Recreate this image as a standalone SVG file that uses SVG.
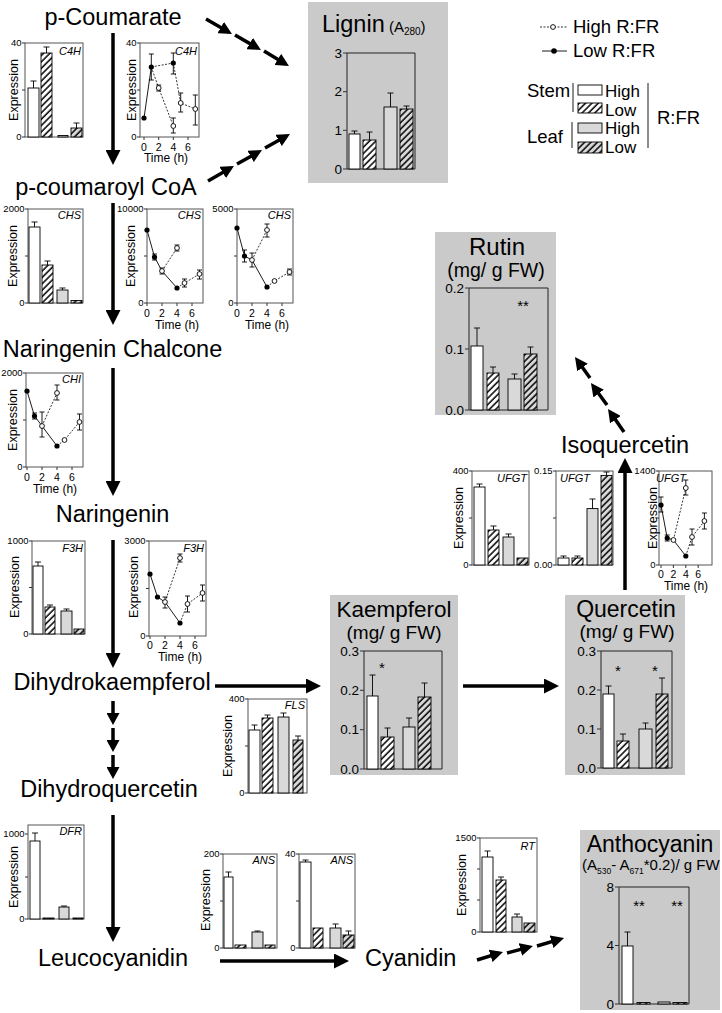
<svg xmlns="http://www.w3.org/2000/svg" width="722" height="1013" viewBox="0 0 722 1013">
<style>
text{font-family:"Liberation Sans",Arial,Helvetica,sans-serif;fill:#000}
.node{font-size:23.5px}
.nc{text-anchor:middle}
.yt{font-size:9.5px;text-anchor:end}
.xt{font-size:10.5px;text-anchor:middle}
.tl{font-size:12px;text-anchor:middle}
.yl{font-size:12.5px;text-anchor:middle}
.gn{font-size:11px;font-style:italic;text-anchor:end}
.bt{font-size:13.5px;text-anchor:end}
.st{font-size:15px;text-anchor:middle}
.lg{font-size:18.5px}
.lh{font-size:17px}
.fr{fill:none;stroke:#555;stroke-width:1}
.bf{fill:none;stroke:#222;stroke-width:1}
.tk{fill:none;stroke:#333;stroke-width:1}
.b{stroke:#000;stroke-width:0.9}
.w{fill:#fff}
.g{fill:#d9d9d9}
.hw{fill:url(#hw)}
.hg{fill:url(#hg)}
.er{fill:none;stroke:#000;stroke-width:0.9}
.ls{fill:none;stroke:#000;stroke-width:0.9}
.ld{fill:none;stroke:#000;stroke-width:0.8;stroke-dasharray:2 1.5}
.oc{fill:#fff;stroke:#000;stroke-width:0.9}
.fc{fill:#000}
.box{fill:#cacaca}
.ar{fill:none;stroke:#000;stroke-width:3.5}
</style>
<defs>
<pattern id="hw" patternUnits="userSpaceOnUse" width="4.5" height="4.5" patternTransform="rotate(45)"><rect width="4.5" height="4.5" fill="#fff"/><line x1="1" y1="0" x2="1" y2="4.5" stroke="#000" stroke-width="1.5"/></pattern>
<pattern id="hg" patternUnits="userSpaceOnUse" width="4.5" height="4.5" patternTransform="rotate(45)"><rect width="4.5" height="4.5" fill="#d9d9d9"/><line x1="1" y1="0" x2="1" y2="4.5" stroke="#000" stroke-width="1.5"/></pattern>
<marker id="ah" viewBox="0 0 15 15" refX="10" refY="7.5" markerWidth="15" markerHeight="15" markerUnits="userSpaceOnUse" orient="auto"><path d="M0,0 L15,7.5 L0,15 z" fill="#000"/></marker>
<marker id="am" viewBox="0 0 13 13" refX="9" refY="6.5" markerWidth="13" markerHeight="13" markerUnits="userSpaceOnUse" orient="auto"><path d="M0,0 L13,6.5 L0,13 z" fill="#000"/></marker>
<marker id="as" viewBox="0 0 12 13" refX="8" refY="6.5" markerWidth="12" markerHeight="13" markerUnits="userSpaceOnUse" orient="auto"><path d="M0,0 L12,6.5 L0,13 z" fill="#000"/></marker>
</defs>
<rect width="722" height="1013" fill="#fff"/>

<g id="connectors">
<path class="ar" marker-end="url(#ah)" d="M113,33 V160"/>
<path class="ar" marker-end="url(#ah)" d="M113,203 V320"/>
<path class="ar" marker-end="url(#ah)" d="M113,368 V491"/>
<path class="ar" marker-end="url(#ah)" d="M113,540 V663"/>
<path class="ar" marker-end="url(#as)" d="M113,701 V721"/>
<path class="ar" marker-end="url(#as)" d="M113,728 V748"/>
<path class="ar" marker-end="url(#as)" d="M113,755 V775"/>
<path class="ar" marker-end="url(#ah)" d="M113,815 V937"/>
<path class="ar" marker-end="url(#ah)" d="M215,686 H316"/>
<path class="ar" marker-end="url(#ah)" d="M463,686 H554"/>
<path class="ar" marker-end="url(#ah)" d="M220,961 H344"/>
<path class="ar" marker-end="url(#ah)" d="M625,590 V463"/>
<path class="ar" marker-end="url(#am)" d="M206,19 L228.5,32"/>
<path class="ar" marker-end="url(#am)" d="M235,35 L257.5,48"/>
<path class="ar" marker-end="url(#am)" d="M264,51 L285.5,64"/>
<path class="ar" marker-end="url(#am)" d="M208,181 L230.5,168"/>
<path class="ar" marker-end="url(#am)" d="M237,164 L258.5,152"/>
<path class="ar" marker-end="url(#am)" d="M265,148 L286.5,136"/>
<path class="ar" marker-end="url(#am)" d="M590,378 L577.3,360.3"/>
<path class="ar" marker-end="url(#am)" d="M607,405 L593.3,386.3"/>
<path class="ar" marker-end="url(#am)" d="M624,432 L610.3,412.3"/>
<path class="ar" marker-end="url(#am)" d="M477,960 L499.2,953.2"/>
<path class="ar" marker-end="url(#am)" d="M507,953 L529.1,947.1"/>
<path class="ar" marker-end="url(#am)" d="M537,946 L560.2,939.1"/>
</g>

<g id="node-p-coumarate"><text class="node nc" x="113" y="25">p-Coumarate</text></g>
<g id="node-p-coumaroyl-coa"><text class="node nc" x="106" y="195">p-coumaroyl CoA</text></g>
<g id="node-naringenin-chalcone"><text class="node nc" x="112.5" y="357">Naringenin Chalcone</text></g>
<g id="node-naringenin"><text class="node nc" x="112.5" y="522">Naringenin</text></g>
<g id="node-dihydrokaempferol"><text class="node nc" x="112" y="690">Dihydrokaempferol</text></g>
<g id="node-dihydroquercetin"><text class="node nc" x="109" y="797">Dihydroquercetin</text></g>
<g id="node-leucocyanidin"><text class="node nc" x="113" y="966">Leucocyanidin</text></g>
<g id="node-cyanidin"><text class="node" x="365" y="966">Cyanidin</text></g>
<g id="node-isoquercetin"><text class="node nc" x="625" y="453">Isoquercetin</text></g>

<g id="chart-c4h-bar">
<rect class="fr" x="25" y="43" width="58" height="94"/>
<path class="tk" d="M22,43H25M22,90H25M22,137H25"/>
<text class="yt" x="21.5" y="46.3">40</text><text class="yt" x="21.5" y="140.3">0</text>
<text class="yl" transform="translate(18,90) rotate(-90)">Expression</text>
<text class="gn" x="81" y="55">C4H</text>
<rect class="b w" x="28" y="88" width="11" height="49"/><path class="er" d="M33.5,88V81M30.5,81H36.5"/>
<rect class="b hw" x="41" y="53" width="11" height="84"/><path class="er" d="M46.5,53V47M43.5,47H49.5"/>
<rect class="b g" x="58" y="135.5" width="10" height="1.5"/>
<rect class="b hg" x="71" y="128" width="11" height="9"/><path class="er" d="M76.5,128V123M73.5,123H79.5"/>
</g>

<g id="chart-c4h-time">
<rect class="fr" x="140" y="43" width="59" height="94"/>
<path class="tk" d="M137,43H140M137,90H140M137,137H140M144,137v3M158.7,137v3M173.3,137v3M188,137v3"/>
<text class="yt" x="136.5" y="46.3">40</text><text class="yt" x="136.5" y="140.3">0</text>
<text class="yl" transform="translate(136,90) rotate(-90)">Expression</text>
<text class="gn" x="197" y="55">C4H</text>
<text class="xt" x="144" y="151">0</text><text class="xt" x="158.7" y="151">2</text><text class="xt" x="173.3" y="151">4</text><text class="xt" x="188" y="151">6</text>
<text class="tl" x="166" y="162">Time (h)</text>
<path class="ls" d="M144,118 L151.3,67"/>
<path class="ld" d="M151.3,67 L173.3,63M151.3,67 L158.7,88 L173.3,126M173.3,63 L180.7,103 L195.3,109"/>
<path class="er" d="M151.3,54V80M148.8,54h5M148.8,80h5M173.3,53V74M170.8,53h5M170.8,74h5M173.3,118V133M170.8,118h5M170.8,133h5M180.7,93V112M178.2,93h5M178.2,112h5M195.3,95V125M192.8,95h5M192.8,125h5M158.7,85V91M156.2,85h5M156.2,91h5"/>
<circle class="fc" cx="144" cy="118" r="2.6"/><circle class="fc" cx="151.3" cy="67" r="2.6"/><circle class="fc" cx="173.3" cy="63" r="2.6"/>
<circle class="oc" cx="158.7" cy="88" r="2.4"/><circle class="oc" cx="173.3" cy="126" r="2.4"/><circle class="oc" cx="180.7" cy="103" r="2.4"/><circle class="oc" cx="195.3" cy="109" r="2.4"/>
</g>

<g id="node-lignin">
<rect class="box" x="308" y="2" width="140" height="181"/>
<text x="322" y="32"><tspan font-size="23.5">Lignin</tspan><tspan font-size="15"> (A</tspan><tspan font-size="10" dy="3">280</tspan><tspan font-size="15" dy="-3">)</tspan></text>
<path class="bf" d="M347,53V169H415V53H347"/>
<path class="tk" d="M343,53H347M343,91.7H347M343,130.3H347M343,169H347"/>
<text class="bt" x="342" y="57.5">3</text><text class="bt" x="342" y="96">2</text><text class="bt" x="342" y="134.5">1</text><text class="bt" x="342" y="173.5">0</text>
<rect class="b w" x="349" y="134" width="11" height="35"/><path class="er" d="M354.5,134V131M351.5,131H357.5"/>
<rect class="b hw" x="363" y="140" width="13" height="29"/><path class="er" d="M369.5,140V132M366.5,132H372.5"/>
<rect class="b g" x="384" y="107" width="13" height="62"/><path class="er" d="M390.5,107V93M387.5,93H393.5"/>
<rect class="b hg" x="400" y="109" width="13" height="60"/><path class="er" d="M406.5,109V106M403.5,106H409.5"/>
</g>

<g id="legend">
<path class="ld" d="M540,27H567"/><circle class="oc" cx="553" cy="27" r="2.4"/>
<text class="lg" x="573" y="33">High R:FR</text>
<path class="ls" d="M542,51H567" stroke-width="1.2"/><circle class="fc" cx="554" cy="51" r="2.8"/>
<text class="lg" x="573" y="57">Low R:FR</text>
<text class="lg" x="527" y="97">Stem</text>
<text class="lg" x="527" y="143">Leaf</text>
<path class="ls" d="M573,83V112M572,122V148M648,83V148" stroke-width="1.2"/>
<rect class="b w" x="578" y="85" width="24" height="10"/>
<rect class="b hw" x="578" y="103" width="24" height="10"/>
<rect class="b g" x="578" y="123" width="24" height="10"/>
<rect class="b hg" x="578" y="142" width="24" height="11"/>
<text class="lh" x="605" y="96.5">High</text>
<text class="lh" x="605" y="115.5">Low</text>
<text class="lh" x="605" y="134">High</text>
<text class="lh" x="605" y="153">Low</text>
<text class="lg" x="657" y="124">R:FR</text>
</g>

<g id="chart-chs-bar">
<rect class="fr" x="28" y="209" width="55" height="94"/>
<path class="tk" d="M25,209H28M25,256H28M25,303H28"/>
<text class="yt" x="24.5" y="212.3">2000</text><text class="yt" x="24.5" y="306.3">0</text>
<text class="yl" transform="translate(17,256) rotate(-90)">Expression</text>
<text class="gn" x="81" y="219">CHS</text>
<rect class="b w" x="29" y="227" width="11" height="76"/><path class="er" d="M34.5,227V222M31.5,222H37.5"/>
<rect class="b hw" x="42" y="265" width="11" height="38"/><path class="er" d="M47.5,265V261M44.5,261H50.5"/>
<rect class="b g" x="57" y="290" width="11" height="13"/><path class="er" d="M62.5,290V288M59.5,288H65.5"/>
<rect class="b hg" x="71" y="300.5" width="11" height="2.5"/>
</g>

<g id="chart-chs-time-1">
<rect class="fr" x="147" y="209" width="56" height="94"/>
<path class="tk" d="M144,209H147M144,256H147M144,303H147M147,303v3M162,303v3M177,303v3M192,303v3"/>
<text class="yt" x="143.5" y="212.3">10000</text><text class="yt" x="143.5" y="306.3">0</text>
<text class="yl" transform="translate(135,256) rotate(-90)">Expression</text>
<text class="gn" x="201" y="219">CHS</text>
<text class="xt" x="147" y="317">0</text><text class="xt" x="162" y="317">2</text><text class="xt" x="177" y="317">4</text><text class="xt" x="192" y="317">6</text>
<text class="tl" x="177" y="329">Time (h)</text>
<path class="ls" d="M147,230 L154.5,257 L162,271 L177,288"/>
<path class="ld" d="M162,271 L177,248M177,288 L184.5,283 L199.5,274"/>
<path class="er" d="M154.5,254V260M152,254h5M152,260h5M162,268V274M159.5,268h5M159.5,274h5M177,245V251M174.5,245h5M174.5,251h5M184.5,279V287M182,279h5M182,287h5M199.5,270V279M197,270h5M197,279h5"/>
<circle class="fc" cx="147" cy="230" r="2.6"/><circle class="fc" cx="154.5" cy="257" r="2.6"/><circle class="fc" cx="177" cy="288" r="2.6"/>
<circle class="oc" cx="162" cy="271" r="2.4"/><circle class="oc" cx="177" cy="248" r="2.4"/><circle class="oc" cx="184.5" cy="283" r="2.4"/><circle class="oc" cx="199.5" cy="274" r="2.4"/>
</g>

<g id="chart-chs-time-2">
<rect class="fr" x="237" y="209" width="56" height="94"/>
<path class="tk" d="M234,209H237M234,256H237M234,303H237M237,303v3M252,303v3M267,303v3M282,303v3"/>
<text class="yt" x="233.5" y="212.3">5000</text><text class="yt" x="233.5" y="306.3">0</text>
<text class="gn" x="291" y="219">CHS</text>
<text class="xt" x="237" y="317">0</text><text class="xt" x="252" y="317">2</text><text class="xt" x="267" y="317">4</text><text class="xt" x="282" y="317">6</text>
<text class="tl" x="267" y="329">Time (h)</text>
<path class="ls" d="M237,228 L244.5,256 L252,260 L267,287"/>
<path class="ld" d="M252,260 L267,230M267,287 L274.5,281 L289.5,272"/>
<path class="er" d="M244.5,250V262M242,250h5M242,262h5M252,253V267M249.5,253h5M249.5,267h5M267,224V237M264.5,224h5M264.5,237h5M289.5,269V275M287,269h5M287,275h5"/>
<circle class="fc" cx="237" cy="228" r="2.6"/><circle class="fc" cx="244.5" cy="256" r="2.6"/><circle class="fc" cx="267" cy="287" r="2.6"/>
<circle class="oc" cx="252" cy="260" r="2.4"/><circle class="oc" cx="267" cy="230" r="2.4"/><circle class="oc" cx="274.5" cy="281" r="2.4"/><circle class="oc" cx="289.5" cy="272" r="2.4"/>
</g>

<g id="chart-chi-time">
<rect class="fr" x="26" y="373" width="57" height="94"/>
<path class="tk" d="M23,373H26M23,420H26M23,467H26M27,467v3M42,467v3M57,467v3M72,467v3"/>
<text class="yt" x="22.5" y="376.3">2000</text><text class="yt" x="22.5" y="470.3">0</text>
<text class="yl" transform="translate(17,420) rotate(-90)">Expression</text>
<text class="gn" x="81" y="383">CHI</text>
<text class="xt" x="27" y="481">0</text><text class="xt" x="42" y="481">2</text><text class="xt" x="57" y="481">4</text><text class="xt" x="72" y="481">6</text>
<text class="tl" x="55" y="493">Time (h)</text>
<path class="ls" d="M27,391 L34.5,416 L42,426 L57,446"/>
<path class="ld" d="M42,426 L57,393M57,446 L64.5,440 L79.5,422"/>
<path class="er" d="M34.5,413V419M32,413h5M32,419h5M42,412V437M39.5,412h5M39.5,437h5M57,385V400M54.5,385h5M54.5,400h5M79.5,414V430M77,414h5M77,430h5"/>
<circle class="fc" cx="27" cy="391" r="2.6"/><circle class="fc" cx="34.5" cy="416" r="2.6"/><circle class="fc" cx="57" cy="446" r="2.6"/>
<circle class="oc" cx="42" cy="426" r="2.4"/><circle class="oc" cx="57" cy="393" r="2.4"/><circle class="oc" cx="64.5" cy="440" r="2.4"/><circle class="oc" cx="79.5" cy="422" r="2.4"/>
</g>

<g id="chart-f3h-bar">
<rect class="fr" x="32" y="541" width="53" height="93"/>
<path class="tk" d="M29,541H32M29,587.5H32M29,634H32"/>
<text class="yt" x="28.5" y="544.3">1000</text><text class="yt" x="28.5" y="637.3">0</text>
<text class="yl" transform="translate(19,587) rotate(-90)">Expression</text>
<text class="gn" x="83" y="552">F3H</text>
<rect class="b w" x="33" y="566" width="10" height="68"/><path class="er" d="M38,566V562M35,562H41"/>
<rect class="b hw" x="45" y="607" width="10" height="27"/><path class="er" d="M50,607V605M47,605H53"/>
<rect class="b g" x="61" y="611" width="11" height="23"/><path class="er" d="M66.5,611V609M63.5,609H69.5"/>
<rect class="b hg" x="74" y="629" width="10" height="5"/>
</g>

<g id="chart-f3h-time">
<rect class="fr" x="149" y="541" width="57" height="95"/>
<path class="tk" d="M146,541H149M146,588.5H149M146,636H149M150,636v3M165,636v3M180,636v3M195,636v3"/>
<text class="yt" x="145.5" y="544.3">3000</text><text class="yt" x="145.5" y="639.3">0</text>
<text class="yl" transform="translate(138,587) rotate(-90)">Expression</text>
<text class="gn" x="204" y="552">F3H</text>
<text class="xt" x="150" y="649">0</text><text class="xt" x="165" y="649">2</text><text class="xt" x="180" y="649">4</text><text class="xt" x="195" y="649">6</text>
<text class="tl" x="180" y="661">Time (h)</text>
<path class="ls" d="M150,574 L157.5,597 L165,602 L180,623"/>
<path class="ld" d="M165,602 L180,558M180,623 L187.5,604 L202.5,593"/>
<path class="er" d="M165,597V608M162.5,597h5M162.5,608h5M180,554V562M177.5,554h5M177.5,562h5M187.5,596V612M185,596h5M185,612h5M202.5,585V601M200,585h5M200,601h5"/>
<circle class="fc" cx="150" cy="574" r="2.6"/><circle class="fc" cx="157.5" cy="597" r="2.6"/><circle class="fc" cx="180" cy="623" r="2.6"/>
<circle class="oc" cx="165" cy="602" r="2.4"/><circle class="oc" cx="180" cy="558" r="2.4"/><circle class="oc" cx="187.5" cy="604" r="2.4"/><circle class="oc" cx="202.5" cy="593" r="2.4"/>
</g>

<g id="node-rutin">
<rect class="box" x="435" y="232" width="121" height="183"/>
<text class="nc" x="497" y="255" font-size="24">Rutin</text>
<text class="nc" x="496" y="277" font-size="19.5">(mg/ g FW)</text>
<path class="bf" d="M469,288V410H548V288H469"/>
<path class="tk" d="M465,288H469M465,349H469M465,410H469"/>
<text class="bt" x="464" y="292.5">0.2</text><text class="bt" x="464" y="353.5">0.1</text><text class="bt" x="464" y="414.5">0.0</text>
<text class="st" x="523" y="311">**</text>
<rect class="b w" x="471" y="346" width="12" height="64"/><path class="er" d="M477,346V328M474,328H480"/>
<rect class="b hw" x="487" y="373" width="12" height="37"/><path class="er" d="M493,373V367M490,367H496"/>
<rect class="b g" x="508" y="379" width="13" height="31"/><path class="er" d="M514.5,379V374M511.5,374H517.5"/>
<rect class="b hg" x="524" y="354" width="13" height="56"/><path class="er" d="M530.5,354V347M527.5,347H533.5"/>
</g>

<g id="chart-ufgt-1">
<rect class="fr" x="472" y="471" width="57" height="94"/>
<path class="tk" d="M469,471H472M469,518H472M469,565H472"/>
<text class="yt" x="468.5" y="474.3">400</text><text class="yt" x="468.5" y="568.3">0</text>
<text class="yl" transform="translate(463,518) rotate(-90)">Expression</text>
<text class="gn" x="527" y="482">UFGT</text>
<rect class="b w" x="474" y="487" width="11" height="78"/><path class="er" d="M479.5,487V484M476.5,484H482.5"/>
<rect class="b hw" x="488" y="530" width="11" height="35"/><path class="er" d="M493.5,530V526M490.5,526H496.5"/>
<rect class="b g" x="503" y="537" width="11" height="28"/><path class="er" d="M508.5,537V534M505.5,534H511.5"/>
<rect class="b hg" x="517" y="558" width="11" height="7"/>
</g>

<g id="chart-ufgt-2">
<rect class="fr" x="556" y="471" width="57" height="94"/>
<path class="tk" d="M553,471H556M553,518H556M553,565H556"/>
<text class="yt" x="552.5" y="474.3">0.15</text><text class="yt" x="552.5" y="568.3">0.00</text>
<text class="gn" x="583" y="482" style="text-anchor:start" dx="-23">UFGT</text>
<rect class="b w" x="558" y="558" width="11" height="7"/><path class="er" d="M563.5,558V556M560.5,556H566.5"/>
<rect class="b hw" x="572" y="558" width="11" height="7"/><path class="er" d="M577.5,558V556M574.5,556H580.5"/>
<rect class="b g" x="587" y="508.6" width="11" height="56.4"/><path class="er" d="M592.5,508.6V499M589.5,499H595.5"/>
<rect class="b hg" x="601" y="475.4" width="11" height="89.6"/><path class="er" d="M606.5,475.4V472M603.5,472H609.5"/>
</g>

<g id="chart-ufgt-time">
<rect class="fr" x="659" y="471" width="53" height="94"/>
<path class="tk" d="M656,471H659M656,518H659M656,565H659M661,565v3M673.4,565v3M685.8,565v3M698.2,565v3"/>
<text class="yt" x="655.5" y="474.3">1400</text><text class="yt" x="655.5" y="568.3">0</text>
<text class="yl" transform="translate(657,518) rotate(-90)">Expression</text>
<text class="gn" x="686" y="482">UFGT</text>
<text class="xt" x="661" y="578">0</text><text class="xt" x="673.4" y="578">2</text><text class="xt" x="685.8" y="578">4</text><text class="xt" x="698.2" y="578">6</text>
<text class="tl" x="686" y="590">Time (h)</text>
<path class="ls" d="M661,505 L667.2,538 L673.4,540 L685.8,556"/>
<path class="ld" d="M673.4,540 L685.8,488M685.8,556 L692,537 L704.4,521"/>
<path class="er" d="M661,497V512M658.5,497h5M658.5,512h5M667.2,535V541M664.7,535h5M664.7,541h5M685.8,480V495M683.3,480h5M683.3,495h5M692,529V545M689.5,529h5M689.5,545h5M704.4,513V529M701.9,513h5M701.9,529h5"/>
<circle class="fc" cx="661" cy="505" r="2.6"/><circle class="fc" cx="667.2" cy="538" r="2.6"/><circle class="fc" cx="685.8" cy="556" r="2.6"/>
<circle class="oc" cx="673.4" cy="540" r="2.4"/><circle class="oc" cx="685.8" cy="488" r="2.4"/><circle class="oc" cx="692" cy="537" r="2.4"/><circle class="oc" cx="704.4" cy="521" r="2.4"/>
</g>

<g id="node-kaempferol">
<rect class="box" x="330" y="595" width="128" height="180"/>
<text class="nc" x="394" y="617" font-size="22.5">Kaempferol</text>
<text class="nc" x="394" y="639" font-size="19">(mg/ g FW)</text>
<path class="bf" d="M364,651V769H442V651H364"/>
<path class="tk" d="M360,651H364M360,690.3H364M360,729.7H364M360,769H364"/>
<text class="bt" x="359" y="655.5">0.3</text><text class="bt" x="359" y="694.8">0.2</text><text class="bt" x="359" y="734.2">0.1</text><text class="bt" x="359" y="773.5">0.0</text>
<text class="st" x="382" y="673">*</text>
<rect class="b w" x="367" y="696" width="11" height="73"/><path class="er" d="M372.5,696V675M369.5,675H375.5"/>
<rect class="b hw" x="381" y="737" width="13" height="32"/><path class="er" d="M387.5,737V728M384.5,728H390.5"/>
<rect class="b g" x="403" y="727" width="12" height="42"/><path class="er" d="M409,727V718M406,718H412"/>
<rect class="b hg" x="418" y="697" width="13" height="72"/><path class="er" d="M424.5,697V683M421.5,683H427.5"/>
</g>

<g id="node-quercetin">
<rect class="box" x="565" y="595" width="120" height="180"/>
<text class="nc" x="626" y="617" font-size="23">Quercetin</text>
<text class="nc" x="627" y="638" font-size="19">(mg/ g FW)</text>
<path class="bf" d="M601,651V768H672V651H601"/>
<path class="tk" d="M597,651H601M597,690H601M597,729H601M597,768H601"/>
<text class="bt" x="596" y="655.5">0.3</text><text class="bt" x="596" y="694.5">0.2</text><text class="bt" x="596" y="733.5">0.1</text><text class="bt" x="596" y="772.5">0.0</text>
<text class="st" x="618" y="676">*</text><text class="st" x="655" y="676">*</text>
<rect class="b w" x="603" y="694" width="11" height="74"/><path class="er" d="M608.5,694V686M605.5,686H611.5"/>
<rect class="b hw" x="617" y="741" width="12" height="27"/><path class="er" d="M623,741V734M620,734H626"/>
<rect class="b g" x="639" y="729" width="13" height="39"/><path class="er" d="M645.5,729V723M642.5,723H648.5"/>
<rect class="b hg" x="656" y="694" width="12" height="74"/><path class="er" d="M662,694V678M659,678H665"/>
</g>

<g id="chart-fls">
<rect class="fr" x="248" y="699" width="59" height="94"/>
<path class="tk" d="M245,699H248M245,746H248M245,793H248"/>
<text class="yt" x="244.5" y="702.3">400</text><text class="yt" x="244.5" y="796.3">0</text>
<text class="yl" transform="translate(232,746) rotate(-90)">Expression</text>
<text class="gn" x="305" y="709">FLS</text>
<rect class="b w" x="249" y="730" width="11" height="63"/><path class="er" d="M254.5,730V725M251.5,725H257.5"/>
<rect class="b hw" x="262" y="718" width="11" height="75"/><path class="er" d="M267.5,718V715M264.5,715H270.5"/>
<rect class="b g" x="278" y="717" width="11" height="76"/><path class="er" d="M283.5,717V713M280.5,713H286.5"/>
<rect class="b hg" x="293" y="740" width="10" height="53"/><path class="er" d="M298,740V736M295,736H301"/>
</g>

<g id="chart-dfr">
<rect class="fr" x="28" y="825" width="56" height="94"/>
<path class="tk" d="M25,834H28M25,877H28M25,919H28"/>
<text class="yt" x="24.5" y="837.3">1000</text><text class="yt" x="24.5" y="922.3">0</text>
<text class="yl" transform="translate(18,877) rotate(-90)">Expression</text>
<text class="gn" x="82" y="835">DFR</text>
<rect class="b w" x="30" y="841" width="10" height="78"/><path class="er" d="M35,841V833M32,833H38"/>
<rect class="b hw" x="43" y="918" width="11" height="1"/>
<rect class="b g" x="59" y="907" width="10" height="12"/><path class="er" d="M64,907V906M61,906H67"/>
<rect class="b hg" x="73" y="918" width="10" height="1"/>
</g>

<g id="chart-ans-1">
<rect class="fr" x="223" y="854" width="54" height="94"/>
<path class="tk" d="M220,854H223M220,901H223M220,948H223"/>
<text class="yt" x="219.5" y="857.3">200</text><text class="yt" x="219.5" y="951.3">0</text>
<text class="yl" transform="translate(210,900) rotate(-90)">Expression</text>
<text class="gn" x="275" y="864">ANS</text>
<rect class="b w" x="224" y="877" width="9" height="71"/><path class="er" d="M228.5,877V872M225.5,872H231.5"/>
<rect class="b hw" x="235" y="945" width="11" height="3"/>
<rect class="b g" x="252" y="932" width="11" height="16"/><path class="er" d="M257.5,932V931M254.5,931H260.5"/>
<rect class="b hg" x="265" y="945" width="10" height="3"/>
</g>

<g id="chart-ans-2">
<rect class="fr" x="299" y="854" width="56" height="94"/>
<path class="tk" d="M296,854H299M296,901H299M296,948H299"/>
<text class="yt" x="295.5" y="857.3">40</text><text class="yt" x="295.5" y="951.3">0</text>
<text class="gn" x="353" y="864">ANS</text>
<rect class="b w" x="300" y="862" width="11" height="86"/><path class="er" d="M305.5,862V860M302.5,860H308.5"/>
<rect class="b hw" x="313" y="928" width="10" height="20"/>
<rect class="b g" x="330" y="928" width="11" height="20"/><path class="er" d="M335.5,928V924M332.5,924H338.5"/>
<rect class="b hg" x="343" y="935" width="11" height="13"/><path class="er" d="M348.5,935V931M345.5,931H351.5"/>
</g>

<g id="chart-rt">
<rect class="fr" x="480" y="838" width="57" height="94"/>
<path class="tk" d="M477,838H480M477,869H480M477,900H480M477,932H480"/>
<text class="yt" x="476.5" y="841.3">1500</text><text class="yt" x="476.5" y="935.3">0</text>
<text class="yl" transform="translate(466,885) rotate(-90)">Expression</text>
<text class="gn" x="535" y="850">RT</text>
<rect class="b w" x="482" y="857" width="11" height="75"/><path class="er" d="M487.5,857V851M484.5,851H490.5"/>
<rect class="b hw" x="496" y="880" width="10" height="52"/><path class="er" d="M501,880V877M498,877H504"/>
<rect class="b g" x="512" y="917" width="10" height="15"/><path class="er" d="M517,917V914M514,914H520"/>
<rect class="b hg" x="524" y="923" width="11" height="9"/>
</g>

<g id="node-anthocyanin">
<rect class="box" x="580" y="830" width="140" height="180"/>
<text class="nc" x="650" y="852" font-size="23">Anthocyanin</text>
<text x="582" y="870" font-size="15">(A<tspan font-size="8.5" dy="3.5">530</tspan><tspan dy="-3.5">- A</tspan><tspan font-size="8.5" dy="3.5">671</tspan><tspan dy="-3.5">*0.2)/ g FW</tspan></text>
<path class="bf" d="M619,887V1004H689V887H619"/>
<path class="tk" d="M615,887H619M615,945.5H619M615,1004H619"/>
<text class="bt" x="614" y="891.5">8</text><text class="bt" x="614" y="950">4</text><text class="bt" x="614" y="1008.5">0</text>
<text class="st" x="639" y="911">**</text><text class="st" x="677" y="911">**</text>
<rect class="b w" x="622" y="946" width="11" height="58"/><path class="er" d="M627.5,946V932M624.5,932H630.5"/>
<rect class="b hw" x="637" y="1002.5" width="13" height="1.5"/>
<rect class="b g" x="658" y="1002" width="12" height="2"/>
<rect class="b hg" x="673" y="1002.5" width="14" height="1.5"/>
</g>
</svg>
